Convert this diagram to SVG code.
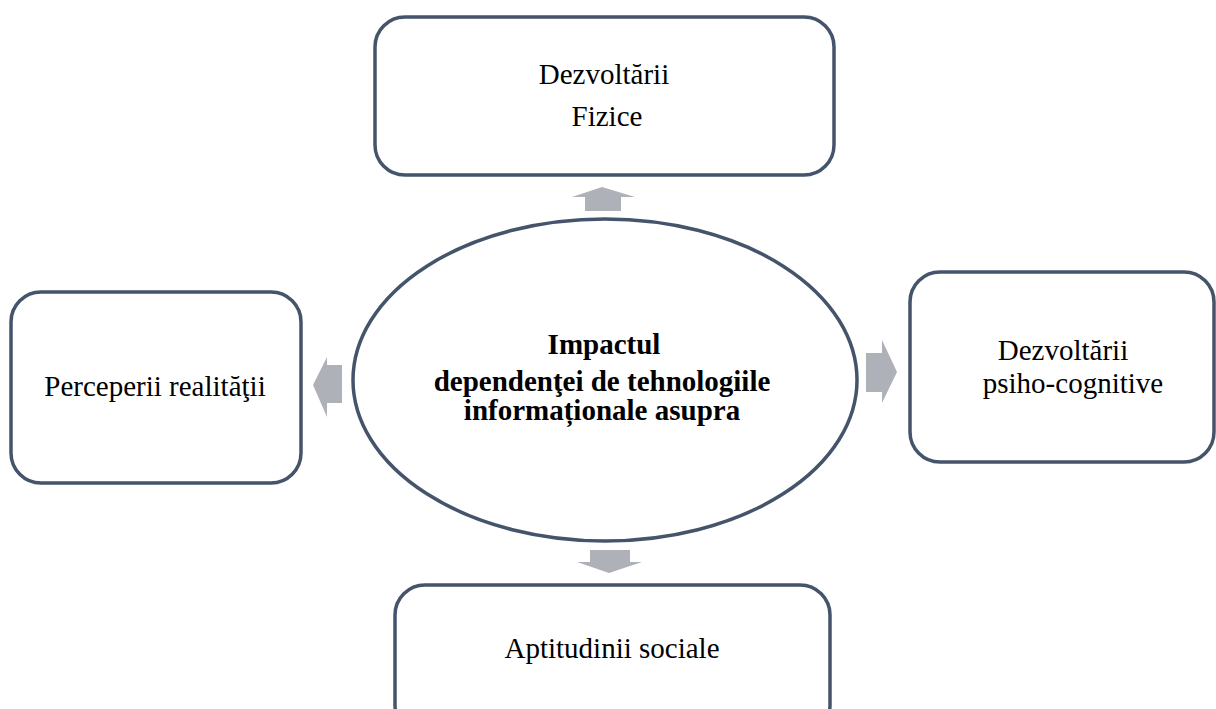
<svg xmlns="http://www.w3.org/2000/svg" width="1216" height="709" viewBox="0 0 1216 709">
<style>
.box{fill:#fff;stroke:#44546A;stroke-width:3.5}
.t{font-family:"Liberation Serif","Times New Roman",serif;font-size:29px;fill:#000;text-anchor:middle}
.b{font-weight:bold}
.arr{fill:#AEB1B7}
</style>
<rect width="1216" height="709" fill="#fff"/>
<g id="connectors">
<polygon class="arr" points="602,187 635,197 621,197 621,211 585,211 585,197 572,197"/>
<polygon class="arr" points="313,385 327,357 327,365 342,365 342,403 327,403 327,417"/>
<polygon class="arr" points="897,372 882,340 882,353 866,353 866,392 882,392 882,403"/>
<polygon class="arr" points="609,573 642,562 630,562 630,550 590,550 590,562 577,562"/>
</g>
<g id="center">
<ellipse class="box" cx="605" cy="380" rx="252" ry="161"/>
<text class="t b" x="604" y="354">Impactul</text>
<text class="t b" x="602" y="391">dependenţei de tehnologiile</text>
<text class="t b" x="602" y="420">informaționale asupra</text>
</g>
<g id="top">
<rect class="box" x="375" y="17" width="459" height="158" rx="30"/>
<text class="t" x="604" y="84">Dezvoltării</text>
<text class="t" x="607" y="126">Fizice</text>
</g>
<g id="left">
<rect class="box" x="11" y="292" width="290" height="191" rx="30"/>
<text class="t" x="155" y="396">Perceperii realităţii</text>
</g>
<g id="right">
<rect class="box" x="910" y="272" width="304" height="190" rx="30"/>
<text class="t" x="1063" y="360">Dezvoltării</text>
<text class="t" x="1073" y="393">psiho-cognitive</text>
</g>
<g id="bottom">
<rect class="box" x="395" y="585" width="435" height="150" rx="30"/>
<text class="t" x="612" y="658">Aptitudinii sociale</text>
</g>
</svg>
